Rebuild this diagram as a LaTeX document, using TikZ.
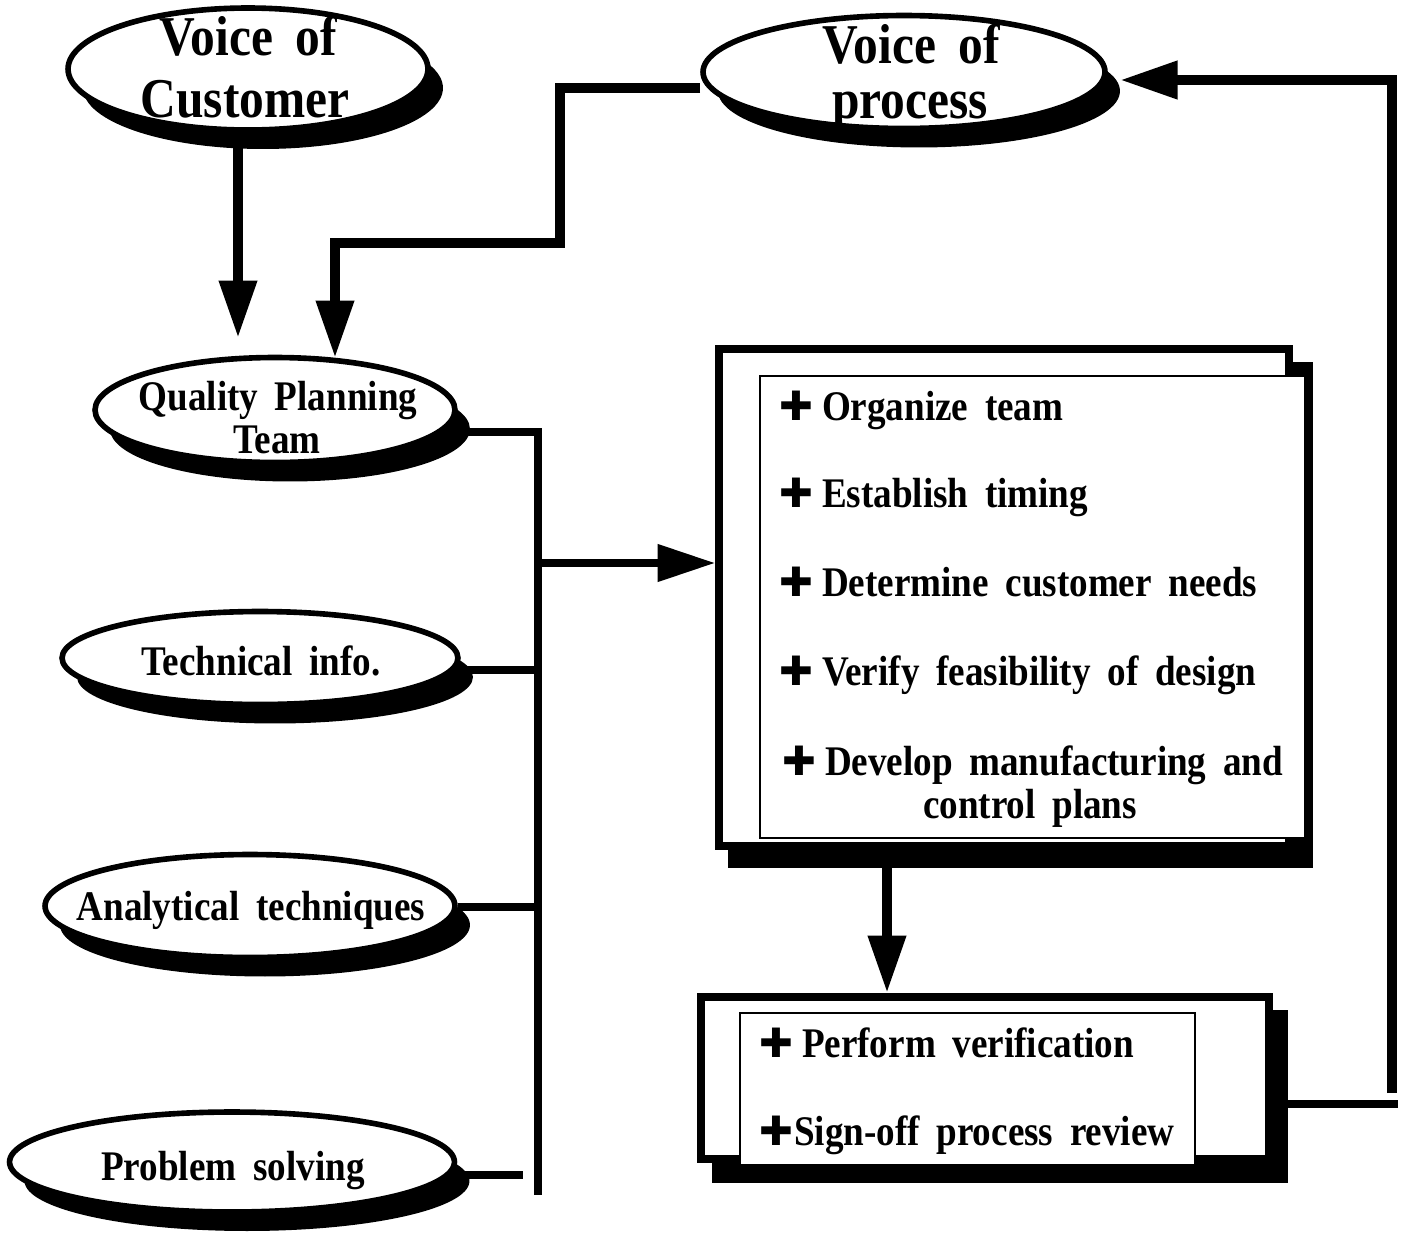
\documentclass[tikz,border=0pt]{standalone}
\usepackage{fontspec}
\setmainfont{Liberation Serif}[FakeStretch=0.88,WordSpace=1.8]
\newfontfamily\symf{DejaVu Sans}
\usetikzlibrary{arrows.meta,shadows,shapes.geometric}
\newcommand\plusmark{{\symf\fontsize{23}{23}\selectfont ✚}}
\begin{document}
\begin{tikzpicture}[x=0.02cm,y=-0.02cm,
  oval/.style={ellipse, draw, line width=3.2pt, fill=white, inner sep=0pt,
    drop shadow={shadow xshift=0.3cm, shadow yshift=-0.38cm, fill=black, opacity=1}},
  lbl/.style={font=\bfseries\fontsize{24}{24}\selectfont, inner sep=0pt, anchor=base},
  biglbl/.style={font=\bfseries\fontsize{32}{32}\selectfont, inner sep=0pt, anchor=base},
  item/.style={font=\bfseries\fontsize{24}{24}\selectfont, inner sep=0pt, anchor=base west},
  backbox/.style={rectangle, draw, line width=4.5pt, fill=white, inner sep=0pt},
  frontbox/.style={rectangle, draw, line width=1.3pt, fill=white, inner sep=0pt},
  wire/.style={line width=4.3pt, line join=miter},
  bigwire/.style={line width=5.8pt, line join=miter},
  tip/.style={-{Triangle[length=1.15cm,width=0.72cm]}},
]
\useasboundingbox (0,0) rectangle (1413,1241);

% ellipses
\node[oval, minimum width=7.2cm, minimum height=2.44cm] (voc) at (248,69) {};
\node[oval, minimum width=8.04cm, minimum height=2.26cm] (vop) at (904,72) {};
\node[oval, minimum width=7.2cm, minimum height=2.1cm] (qpt) at (275,410) {};
\node[oval, minimum width=7.92cm, minimum height=1.86cm] (tech) at (260,658) {};
\node[oval, minimum width=8.2cm, minimum height=2.06cm] (anal) at (250,906) {};
\node[oval, minimum width=8.9cm, minimum height=2.0cm] (prob) at (232,1162) {};

\node[biglbl] (vocA) at (248,55) {Voice of};
\node[biglbl] (vocB) at (245,117) {Customer};
\node[biglbl] (vopA) at (911,63) {Voice of};
\node[biglbl] (vopB) at (910,118) {process};
\node[lbl] (qptA) at (278,410) {Quality Planning};
\node[lbl] (qptB) at (277,453) {Team};
\node[lbl] (techA) at (261,675) {Technical info.};
\node[lbl] (analA) at (251,920) {Analytical techniques};
\node[lbl] (probA) at (233,1180) {Problem solving};

% big box
\fill (728,362) rectangle (1313,868);
\node[backbox, minimum width=11.4cm, minimum height=9.94cm] (bigback) at (1004,597.5) {};
\node[frontbox, minimum width=10.9cm, minimum height=9.24cm] (bigfront) at (1032.5,607) {};
\node[item] (i1) at (779,420) {\plusmark\hspace{5pt}Organize team};
\node[item] (i2) at (779,507) {\plusmark\hspace{5pt}Establish timing};
\node[item] (i3) at (779,596) {\plusmark\hspace{5pt}Determine customer needs};
\node[item] (i4) at (779,685) {\plusmark\hspace{5pt}Verify feasibility of design};
\node[item] (i5) at (782,775) {\plusmark\hspace{5pt}Develop manufacturing and};
\node[lbl] (i5b) at (1030,818) {control plans};

% bottom box
\fill (712,1010) rectangle (1288,1183);
\node[backbox, minimum width=11.36cm, minimum height=3.24cm] (botback) at (985,1078) {};
\node[frontbox, minimum width=9.1cm, minimum height=3.04cm] (botfront) at (967.5,1089) {};
\node[item] (j1) at (759,1057) {\plusmark\hspace{5pt}Perform verification};
\node[item] (j2) at (759,1145) {\plusmark\hspace{0.5pt}Sign-off process review};

% connectors
\coordinate (a1) at (238,338);
\draw[bigwire,tip] (voc.south -| a1) -- (a1);

\coordinate (y88) at (0,88);
\coordinate (a2) at (335,358);
\draw[bigwire,tip] (vop.west |- y88) -| (560,243) -| (a2);

\coordinate (busTop) at (538,432);
\coordinate (busBot) at (538,1195);
\draw[wire] (qpt.east |- busTop) -- (busTop) -- (busBot);

\coordinate (br) at (538,563);
\draw[wire,tip] (br) -- (bigback.west |- br);

\coordinate (t1) at (538,670);
\draw[wire] (tech.east |- t1) -- (t1);
\coordinate (t2) at (538,907);
\draw[wire] (anal.east |- t2) -- (t2);
\coordinate (t3) at (523,1175);
\draw[wire] (prob.east |- t3) -- (t3);

\coordinate (d1) at (887,868);
\draw[bigwire,tip] (d1) -- (botback.north -| d1);

\coordinate (f2) at (1398,1104);
\draw[wire] (botback.east |- f2) -- (f2);
\coordinate (v1) at (1392,1093);
\coordinate (v2) at (1392,80);
\coordinate (vpR) at (1120,80);
\draw[bigwire,tip] (v1) -- (v2) -- (vpR);
\end{tikzpicture}
\end{document}
